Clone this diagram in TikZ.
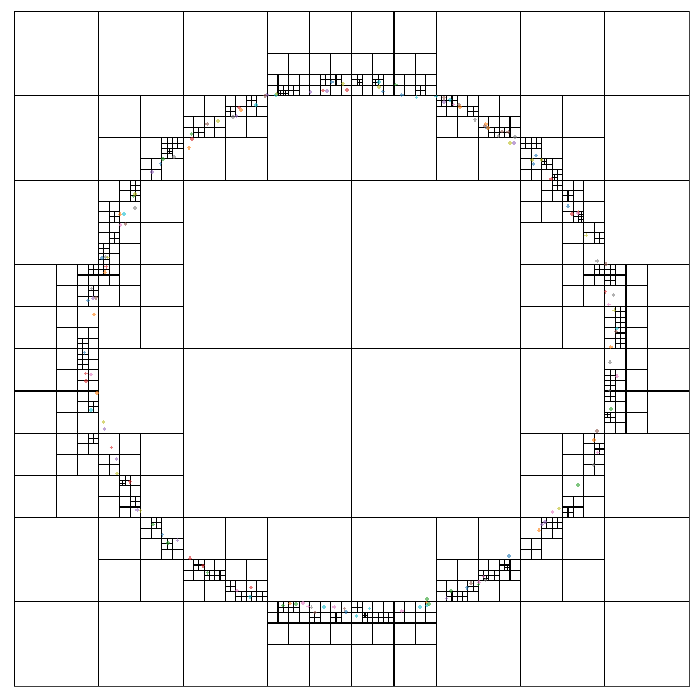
\documentclass[tikz,border=0pt]{standalone}
\usetikzlibrary{calc}
\definecolor{t0}{HTML}{1F77B4}\definecolor{t1}{HTML}{FF7F0E}\definecolor{t2}{HTML}{2CA02C}
\definecolor{t3}{HTML}{D62728}\definecolor{t4}{HTML}{9467BD}\definecolor{t5}{HTML}{8C564B}
\definecolor{t6}{HTML}{E377C2}\definecolor{t7}{HTML}{7F7F7F}\definecolor{t8}{HTML}{BCBD22}
\definecolor{t9}{HTML}{17BECF}
\tikzset{qline/.style={line width=0.36pt,black}, ptmark/.style={line width=0.5pt,opacity=0.6}}
\newcommand\Qsplit[3]{\draw[qline] ({#1+0.5*#3},#2) -- ++(0,#3) (#1,{#2+0.5*#3}) -- ++(#3,0);}
\begin{document}
\begin{tikzpicture}[x=1cm,y=-1cm]
\useasboundingbox (-0.1695,-0.1339) rectangle (8.1268,8.1624);
\draw[qline] (0,0) rectangle (8,8);
\draw[line width=0.5pt,black!75] (8,0) -- (8,8) -- (0,8);
\Qsplit{0}{0}{8}
\foreach \x/\y in {0/0,4/0,0/4,4/4} {\Qsplit{\x}{\y}{4}}
\foreach \x/\y in {0/0,2/0,4/0,6/0,0/2,6/2,0/4,6/4,0/6,2/6,4/6,6/6} {\Qsplit{\x}{\y}{2}}
\foreach \x/\y in {3/0,4/0,1/1,2/1,5/1,6/1,1/2,6/2,0/3,1/3,6/3,7/3,0/4,7/4,0/5,1/5,6/5,1/6,2/6,5/6,6/6,3/7,4/7} {\Qsplit{\x}{\y}{1}}
\foreach \x/\y in {3/0.5,3.5/0.5,4/0.5,4.5/0.5,1.5/1.5,2/1,2.5/1,5/1,5.5/1,6/1.5,1/2,1/2.5,6/2,6.5/2,6.5/2.5,
 0.5/3,0.5/3.5,1/3,6.5/3,7/3,7/3.5,0.5/4,0.5/4.5,7/4,7/4.5,0.5/5,1/5,1/5.5,6.5/5,6.5/5.5,1.5/6,
 2/6.5,2.5/6.5,5/6.5,5.5/6.5,6/6,3/7,3.5/7,4/7,4.5/7} {\Qsplit{\x}{\y}{0.5}}
\foreach \x/\y in {3/0.75,3.25/0.75,3.5/0.75,3.75/0.75,4/0.75,4.25/0.75,4.5/0.75,4.75/0.75,
 1.75/1.5,1.5/1.75,2/1.25,2.25/1.25,2.5/1,2.75/1,5/1,5.25/1,5.5/1.25,5.75/1.25,
 6/1.5,6.25/1.75,6/1.75,1.25/2,1/2.25,1/2.5,1/2.75,6.25/2,6.5/2,6.5/2.25,6.75/2.5,
 0.75/3,0.75/3.25,0.75/3.75,1/3,6.75/3,7/3,7/3.5,7/3.75,0.75/4,0.75/4.25,0.75/4.5,
 7/4.25,7/4.5,7/4.75,0.75/5,1/5.25,1.25/5.5,1.25/5.75,6.75/5,6.75/5.25,6.5/5.75,
 1.5/6,1.75/6.25,2/6.5,2.25/6.5,2.5/6.75,2.75/6.75,5/6.75,5.25/6.75,5.5/6.5,5.75/6.5,
 6.25/6,6/6.25,3/7,3.25/7,3.5/7,3.75/7,4/7,4.25/7,4.5/7,4.75/7} {\Qsplit{\x}{\y}{0.25}}
\foreach \x/\y in {3.125/0.875,3.25/0.875,3.625/0.75,3.75/0.75,4/0.75,4.25/0.75,4.75/0.875,
 1.75/1.5,1.75/1.625,1.875/1.5,2.125/1.375,2.5/1.125,2.75/1,5/1,5.125/1,5.375/1.125,
 5.625/1.375,5.75/1.375,6/1.5,6.125/1.5,6.25/1.75,6.375/1.875,1.375/2,1.375/2.125,
 1.125/2.375,1.125/2.625,1/2.75,1/2.875,6.375/2,6.5/2.125,6.625/2.375,6.875/2.625,
 0.875/3,0.875/3.25,0.75/3.875,1/3,6.875/3,7/3,7/3.125,7.125/3.5,7.125/3.625,7.125/3.75,
 7.125/3.875,0.75/4,0.75/4.125,0.875/4.625,7/4.25,7/4.375,7/4.5,7/4.75,0.875/5,
 1.25/5.5,1.375/5.75,6.875/5.125,6.5/5.875,1.625/6,1.75/6.25,2.125/6.5,2.25/6.625,
 2.375/6.625,2.5/6.75,2.625/6.875,2.75/6.875,2.875/6.875,5.125/6.875,5.25/6.875,
 5.375/6.75,5.5/6.625,5.625/6.625,5.75/6.5,6.25/6,6.375/6,3.125/7,3.25/7,3.5/7.125,
 3.75/7.125,4/7,4.125/7.125,4.25/7.125,4.375/7.125} {\Qsplit{\x}{\y}{0.125}}
\foreach \x/\y in {3.125/0.9375,3.1875/0.9375,4.0625/0.8125,4.25/0.8125,1.8125/1.625,
 6.375/1.9375,6.25/1.75,6.6875/2.375,6.6875/2.4375,5.5625/6.6875,5.8125/6.5625,
 4.125/7.125,7/4.75,1.25/5.5625} {\Qsplit{\x}{\y}{0.0625}}
\pgfmathsetseed{17}
\foreach \i in {1,...,150}{
  \pgfmathsetmacro\ang{rnd*360}
  \pgfmathsetmacro\rad{3.12+0.12*(rnd-0.5)}
  \pgfmathtruncatemacro\cc{mod(\i,10)}
  \draw[ptmark,color=t\cc] ($(4,4)+(\ang:\rad)+(-0.022,0)$) -- ++(0.044,0)
     ($(4,4)+(\ang:\rad)+(0,-0.022)$) -- ++(0,0.044);
}
\end{tikzpicture}
\end{document}
